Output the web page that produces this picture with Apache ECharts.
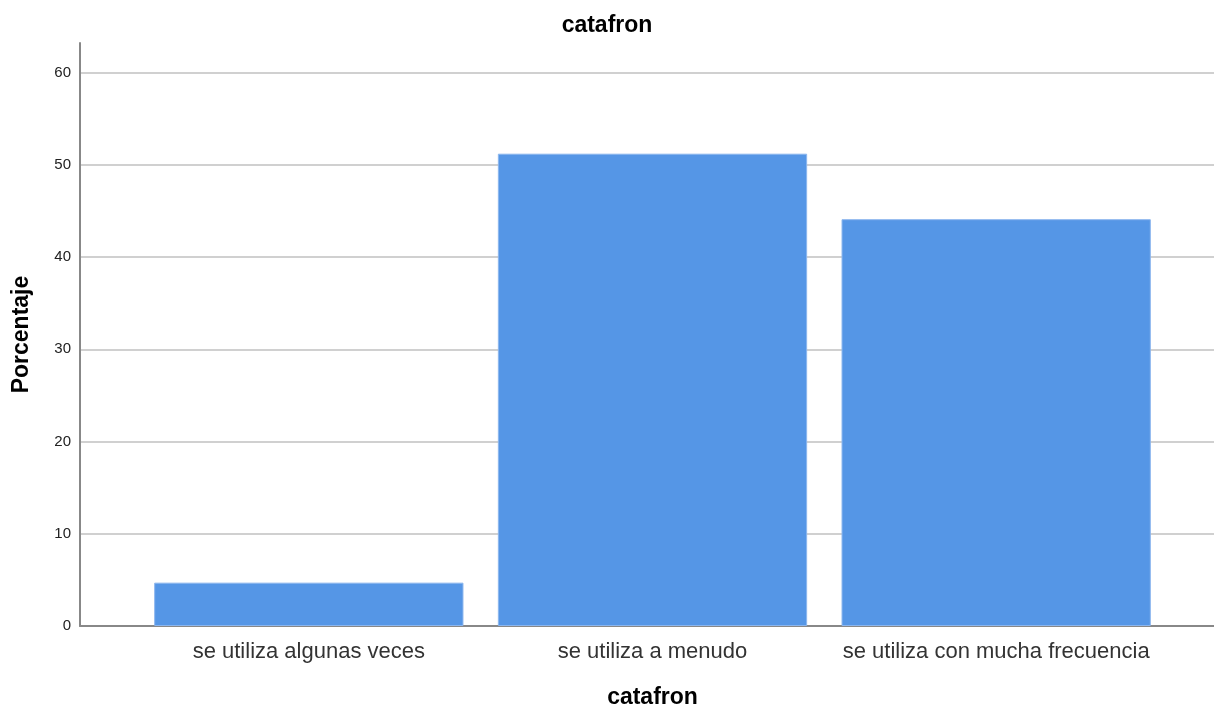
<!DOCTYPE html>
<html>
<head>
<meta charset="utf-8">
<script src="https://cdn.jsdelivr.net/npm/echarts@6/dist/echarts.min.js"></script>
<style>
html,body{margin:0;padding:0;background:#fff;}
#chart{width:1214px;height:707px;}
</style>
</head>
<body>
<div id="chart"></div>
<script>
const titleText = "catafron";
const xAxisName = "catafron";
const yAxisName = "Porcentaje";
const categories = ["se utiliza algunas veces", "se utiliza a menudo", "se utiliza con mucha frecuencia"];
const percentages = [4.7, 51.2, 44.1];
const yMin = 0;
const yMax = 63.2;
const yInterval = 10;

const chart = echarts.init(document.getElementById('chart'), null, {renderer: 'canvas'});
const FONT = '"Liberation Sans", Arial, sans-serif';
chart.setOption({
  animation: false,
  backgroundColor: '#ffffff',
  title: {
    text: titleText,
    left: 'center',
    top: 9,
    textStyle: {fontFamily: FONT, fontWeight: 'bold', fontSize: 23, color: '#000'}
  },
  grid: [
    {left: 80, right: 0, top: 43, bottom: 81, containLabel: false, outerBoundsMode: 'none'},
    {left: 137, right: 46, top: 43, bottom: 81, containLabel: false, outerBoundsMode: 'none'}
  ],
  xAxis: [
    {
      gridIndex: 0, type: 'value', min: 0, max: 1,
      axisLine: {show: true, onZero: false, lineStyle: {color: '#888', width: 2}},
      axisTick: {show: false}, axisLabel: {show: false}, splitLine: {show: false}
    },
    {
      gridIndex: 1, type: 'category', data: categories,
      name: xAxisName, nameLocation: 'middle', nameGap: 60,
      nameTextStyle: {fontFamily: FONT, fontWeight: 'bold', fontSize: 23, color: '#000'},
      axisLine: {show: false}, axisTick: {show: false},
      axisLabel: {fontFamily: FONT, fontSize: 22, color: '#333', margin: 15, interval: 0}
    }
  ],
  yAxis: [
    {
      gridIndex: 0, type: 'value', min: yMin, max: yMax, interval: yInterval,
      name: yAxisName, nameLocation: 'middle', nameGap: 47,
      nameTextStyle: {fontFamily: FONT, fontWeight: 'bold', fontSize: 23, color: '#000'},
      axisLine: {show: true, lineStyle: {color: '#888', width: 2}},
      axisTick: {show: false},
      axisLabel: {fontFamily: FONT, fontSize: 15, color: '#222', margin: 9, showMaxLabel: false},
      splitLine: {show: true, showMinLine: false, showMaxLine: false, lineStyle: {color: '#d0d0d0', width: 2}}
    },
    {
      gridIndex: 1, type: 'value', min: yMin, max: yMax, interval: yInterval,
      show: false, splitLine: {show: false}
    }
  ],
  series: [{
    type: 'bar',
    xAxisIndex: 1, yAxisIndex: 1,
    data: percentages,
    barCategoryGap: '10%',
    itemStyle: {color: '#5596E6', borderColor: '#8cb6ee', borderWidth: 1}
  }]
});
</script>
</body>
</html>
